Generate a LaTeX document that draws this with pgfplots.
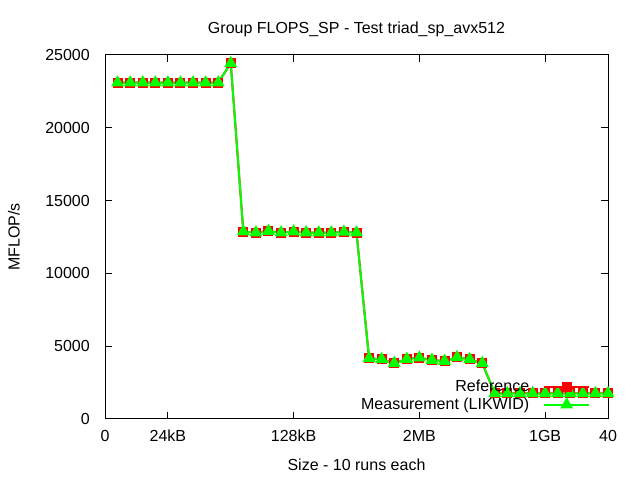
\documentclass[border=0pt]{standalone}
\usepackage{fontspec}
\setmainfont{Liberation Sans}
\usepackage{pgfplots}
\pgfplotsset{compat=1.18}
\definecolor{gpred}{RGB}{255,0,0}
\definecolor{gpgreen}{RGB}{0,255,0}
\newcommand{\gpfont}{\fontsize{16bp}{19bp}\selectfont}

\begin{document}
\begin{tikzpicture}[font=\gpfont]
\useasboundingbox (0,0) rectangle (640bp,480bp);
\begin{axis}[
    at={(105bp,61bp)}, anchor=south west,
    scale only axis,
    width=503bp, height=364bp,
    xmin=0, xmax=40, ymin=0, ymax=25000,
    xtick={0,5,15,25,35,40},
    xticklabels={0,24kB,128kB,2MB,1GB,40},
    ytick={0,5000,10000,15000,20000,25000},
    scaled y ticks=false,
    /pgf/number format/assume math mode=true,
    /pgf/number format/set thousands separator={},
    tick align=inside, tick pos=both,
    major tick length=7bp,
    axis line style={line width=1bp},
    every tick/.style={black, line width=1bp},
    tick label style={font=\gpfont, inner sep=0pt},
    xticklabel style={anchor=north, yshift=-11bp},
    yticklabel style={anchor=east, xshift=-15bp},
    title={Group FLOPS\_SP - Test triad\_sp\_avx512},
    title style={font=\gpfont, at={(axis description cs:0.5,1)}, anchor=center, yshift=20bp},
    xlabel={Size - 10 runs each},
    xlabel style={font=\gpfont, at={(axis description cs:0.5,0)}, anchor=center, yshift=-46bp},
    ylabel={MFLOP/s},
    ylabel style={font=\gpfont, at={(axis description cs:0,0.5)}, anchor=center, yshift=91bp},
    legend plot pos=right,
    legend cell align=right,
    legend style={draw=none, fill=none, font=\gpfont, inner sep=0pt,
        at={(rel axis cs:0.965,0.064)}, anchor=east,
        row sep=3bp, column sep=13bp,
        nodes={inner sep=1bp}},
    legend image code/.code={
        \draw[mark repeat=2, mark phase=2, #1]
            plot coordinates {(0bp,0bp) (22.5bp,0bp) (45bp,0bp)};},
]
\addplot[color=gpred, line width=2bp, mark=square*, mark size=4bp,
    mark options={solid}] coordinates {
(1,23100) (2,23100) (3,23100) (4,23100) (5,23100) (6,23100) (7,23100) (8,23100) (9,23100)
(10,24430)
(11,12870) (12,12800) (13,12910) (14,12800) (15,12870) (16,12800) (17,12800) (18,12800) (19,12850) (20,12800)
(21,4170) (22,4100) (23,3830) (24,4120) (25,4210) (26,4050) (27,3980) (28,4240) (29,4100) (30,3830)
(31,1760) (32,1760) (33,1760) (34,1760) (35,1760) (36,1760) (37,1760) (38,1760) (39,1760) (40,1760)
};
\addlegendentry{Reference}
\addplot[color=gpgreen, line width=2bp, mark=triangle*, mark size=5.5bp,
    mark options={solid}] coordinates {
(1,23100) (2,23100) (3,23100) (4,23100) (5,23100) (6,23100) (7,23100) (8,23100) (9,23100)
(10,24430)
(11,12870) (12,12800) (13,12910) (14,12800) (15,12870) (16,12800) (17,12800) (18,12800) (19,12850) (20,12800)
(21,4170) (22,4100) (23,3830) (24,4120) (25,4210) (26,4050) (27,3980) (28,4240) (29,4100) (30,3830)
(31,1760) (32,1760) (33,1760) (34,1760) (35,1760) (36,1760) (37,1760) (38,1760) (39,1760) (40,1760)
};
\addlegendentry{Measurement (LIKWID)}
\end{axis}
\end{tikzpicture}
\end{document}
